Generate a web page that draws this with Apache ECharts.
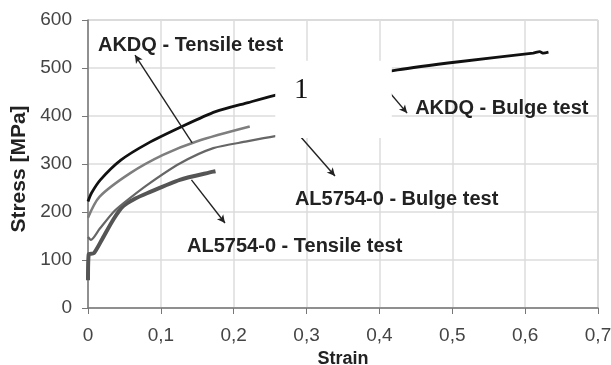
<!DOCTYPE html>
<html><head><meta charset="utf-8">
<script src="https://cdn.jsdelivr.net/npm/echarts@6/dist/echarts.min.js"></script>
<style>html,body{margin:0;padding:0;background:#fff}#c{width:611px;height:365px}</style>
</head><body><div id="c"></div>
<script>
// Data (strain, stress in MPa)
var akdqBulge = [[0,222],[0.005,240],[0.017,267],[0.045,308],[0.082,343],[0.129,378],[0.175,409],[0.22,428],[0.262,445],[0.34,472],[0.425,496],[0.509,513],[0.611,531],[0.62,534],[0.625,531],[0.632,533]];
var akdqTensile = [[0,188],[0.016,232],[0.058,281],[0.103,319],[0.149,347],[0.222,378]];
var alBulge = [[0,148],[0.004,142],[0.016,165],[0.035,200],[0.0485,218],[0.081,256],[0.126,301],[0.172,333],[0.218,347],[0.257,358],[0.3,368]];
var alTensile = [[0,58],[0.001,112],[0.008,114],[0.02,145],[0.035,185],[0.048,212],[0.065,228],[0.081,239],[0.126,267],[0.172,284],[0.175,285]];
var xTicks = {min:0, max:0.7, interval:0.1};
var yTicks = {min:0, max:600, interval:100};
// Annotations: [label, labelLeftStrain, labelStress, arrowFrom, arrowTo]
var notes = [
  ['AKDQ - Tensile test', 0.0137, 546, [0.143,344], [0.0645,527]],
  ['AKDQ - Bulge test', 0.449, 415, [0.405,465], [0.438,406]],
  ['AL5754-0 - Bulge test', 0.284, 227, [0.29,360], [0.339,275]],
  ['AL5754-0 - Tensile test', 0.136, 128, [0.142,267], [0.188,177]]
];
var boxArea = [[0.257,515],[0.417,354]];
var boxLabel = '1';

var chart = echarts.init(document.getElementById('c'));
function fmt(v){ return v===0 ? '0' : v.toFixed(1).replace('.', ','); }
var arrowLines = notes.map(function(n){ return [{coord:n[3]},{coord:n[4]}]; });
chart.setOption({
  animation:false,
  grid:{left:88,right:13,top:20,bottom:57,containLabel:false,outerBoundsMode:'none',show:true,borderColor:'#b0b0b0',borderWidth:1},
  xAxis:{type:'value',min:xTicks.min,max:xTicks.max,interval:xTicks.interval,
    name:'Strain',nameLocation:'middle',nameGap:40,
    nameTextStyle:{fontFamily:'Liberation Sans',fontWeight:'bold',fontSize:18,color:'#222'},
    axisLine:{show:true,lineStyle:{color:'#777',width:1.5}},
    axisTick:{show:true,length:6,lineStyle:{color:'#777'}},
    axisLabel:{formatter:fmt,fontFamily:'Liberation Sans',fontSize:19,color:'#444',margin:18},
    splitLine:{show:true,lineStyle:{color:'#dcdcdc',width:1.5}}},
  yAxis:{type:'value',min:yTicks.min,max:yTicks.max,interval:yTicks.interval,
    name:'Stress [MPa]',nameLocation:'middle',nameGap:54,
    nameTextStyle:{fontFamily:'Liberation Sans',fontWeight:'bold',fontSize:21,color:'#222',padding:[0,10,0,0]},
    axisLine:{show:true,lineStyle:{color:'#777',width:1.5}},
    axisTick:{show:true,length:6,lineStyle:{color:'#777'}},
    axisLabel:{fontFamily:'Liberation Sans',fontSize:19,color:'#444',margin:16},
    splitLine:{show:true,lineStyle:{color:'#dcdcdc',width:1.5}}},
  series:[
    {type:'line',data:alTensile,showSymbol:false,smooth:0.25,z:3,lineStyle:{color:'#555',width:4}},
    {type:'line',data:alBulge,showSymbol:false,smooth:0.25,z:3,lineStyle:{color:'#666',width:2.2}},
    {type:'line',data:akdqTensile,showSymbol:false,smooth:0.3,z:3,lineStyle:{color:'#7e7e7e',width:2.5}},
    {type:'line',data:akdqBulge,showSymbol:false,smooth:0.25,z:3,lineStyle:{color:'#111',width:2.8},
      markLine:{silent:true,symbol:['none','arrow'],symbolSize:[6,8],animation:false,
        label:{show:false},lineStyle:{color:'#222',width:1.4,type:'solid'},data:arrowLines}}
  ]
});
function px(p){ return chart.convertToPixel({gridIndex:0}, p); }
var g = [];
var b0 = px(boxArea[0]), b1 = px(boxArea[1]);
g.push({type:'rect',z:100,shape:{x:b0[0],y:b0[1],width:b1[0]-b0[0],height:b1[1]-b0[1]},style:{fill:'#fff'}});
g.push({type:'text',z:101,x:b0[0]+26,y:b0[1]+30,style:{text:boxLabel,font:'29px "Liberation Serif"',fill:'#111',align:'center',verticalAlign:'middle'}});
notes.forEach(function(n){
  var p = px([n[1], n[2]]);
  g.push({type:'text',z:102,x:p[0],y:p[1],style:{text:n[0],font:'bold 20px "Liberation Sans"',fill:'#222',align:'left',verticalAlign:'middle'}});
});
chart.setOption({graphic:g});
</script></body></html>
